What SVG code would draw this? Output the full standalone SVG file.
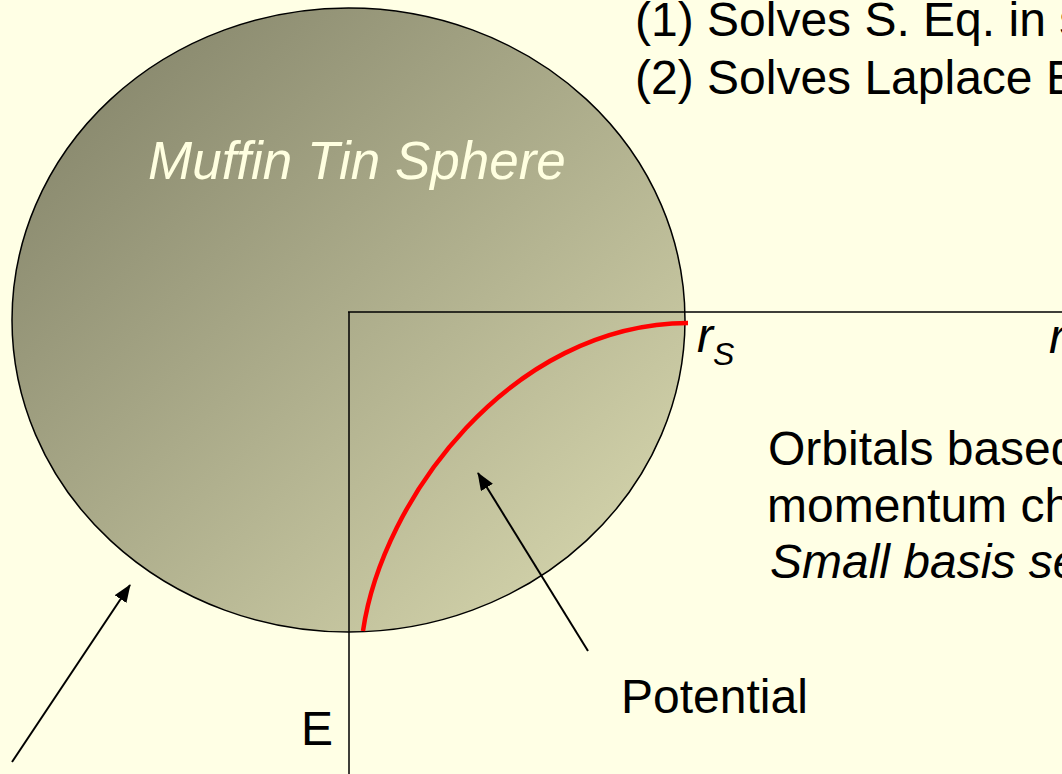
<svg xmlns="http://www.w3.org/2000/svg" width="1062" height="774" viewBox="0 0 1062 774">
<defs>
<linearGradient id="sph" x1="0" y1="0" x2="1" y2="1">
<stop offset="0" stop-color="#7E7E65"/>
<stop offset="1" stop-color="#DCDCB2"/>
</linearGradient>
<marker id="ah" viewBox="0 0 18 14" refX="17" refY="7" markerWidth="18" markerHeight="14" markerUnits="userSpaceOnUse" orient="auto">
<path d="M0,0 L18,7 L0,14 z" fill="#000"/>
</marker>
<style>
.t{font-family:"Liberation Sans",Arial,sans-serif;font-size:48px;fill:#000}
.i{font-style:italic}
.ax{stroke:#000;stroke-width:1.5;fill:none}
.ar{stroke:#000;stroke-width:2;fill:none}
</style>
</defs>
<rect width="1062" height="774" fill="#FFFFE5"/>
<g id="sphere">
<ellipse cx="348.5" cy="320" rx="336.5" ry="312" fill="url(#sph)" stroke="#000" stroke-width="1.5"/>
<text x="148" y="179" class="t i" style="font-size:53px;fill:#FFFFE0">Muffin Tin Sphere</text>
</g>
<g id="axes">
<path class="ax" d="M348,312 H1062 M349,312 V774"/>
<text x="301" y="745" class="t">E</text>
<text x="697" y="352" class="t i">r<tspan dy="13" style="font-size:32px">S</tspan></text>
<text x="1049" y="353" class="t i">r</text>
</g>
<g id="potential-curve">
<path d="M363,631 C382,500 510,324 688,323" fill="none" stroke="#FF0000" stroke-width="4.5"/>
</g>
<g id="connectors">
<line class="ar" x1="12" y1="762" x2="130" y2="585" marker-end="url(#ah)"/>
<line class="ar" x1="588" y1="651" x2="478" y2="473" marker-end="url(#ah)"/>
</g>
<g id="top-text">
<text x="635" y="36" class="t">(1) Solves S. Eq. in s</text>
<text x="635" y="94" class="t">(2) Solves Laplace E</text>
</g>
<g id="orbitals-text">
<text x="768" y="465" class="t">Orbitals based</text>
<text x="767" y="522" class="t">momentum ch</text>
<text x="770" y="578" class="t i">Small basis se</text>
</g>
<g id="potential-label">
<text x="621" y="713" class="t">Potential</text>
</g>
</svg>
